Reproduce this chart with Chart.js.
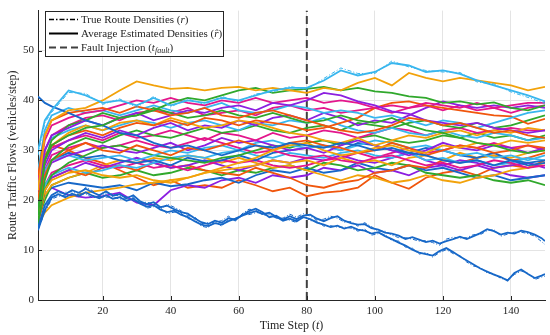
<!DOCTYPE html>
<html>
<head>
<meta charset="utf-8">
<script src="https://cdn.jsdelivr.net/npm/chart.js@4.4.1/dist/chart.umd.min.js"></script>
<style>
  html, body { margin: 0; padding: 0; background: #fff; }
</style>
</head>
<body>
<canvas id="chart" width="550" height="335"></canvas>
<script>
// time steps the values were read at
const steps = [1,3,5,10,15,20,25,30,35,40,45,50,55,60,65,70,75,80,85,90,95,100,105,110,115,120,125,130,135,140,145,150];
// finer steps for the two isolated low routes
const fineSteps = [1,3,5,7,9,11,13,15,17,19,21,23,25,27,29,31,33,35,37,39,41,43,45,47,49,51,53,55,57,59,
  61,63,65,67,69,71,73,75,77,79,81,83,85,87,89,91,93,95,97,99,101,103,105,107,109,111,113,115,117,119,
  121,123,125,127,129,131,133,135,137,139,141,143,145,147,149,150];
const xTicks = [20,40,60,80,100,120,140];
const yTicks = [0,10,20,30,40,50];
const faultStep = 80;
const yTop = 58;

// estimated route densities
const cyanTop    = [30,36,38,42,41,39.5,40,39,40.5,39,40,39.5,40.5,40,41,42,42.5,42.5,44,46,45,45.7,47.5,47,45.7,46,45.3,44,43,42,41,39.8];
const yellowTop  = [22,33,36,38,38.5,40,42,43.8,43,42.3,42.5,42,42.5,42.7,42,42.5,42,41.5,42.5,42,43.5,44.5,43,45.5,44.5,43.8,44.5,44,43.5,43,42,42.7];
const greenHigh  = [18,28,31,33,34.5,35,36.5,37,38,39.5,40.5,40,41,42,42.5,41.5,42,42.3,42.7,42,42.5,41.8,41.5,40.8,40.5,39.5,39.8,39.2,39.6,38.5,38,39];
const blueTop    = [40.8,39.5,38.8,37.5,36,35,33.5,33,31.5,30.5,31,30,29,30,31,30.5,31.5,31,30.5,31.5,31,30,30.5,29.5,29,28,27.5,28,27,28,27.5,28];
const blueMid1   = [16,21,22.5,23.5,23,22.5,23,22,23.5,22.8,23.2,24,24.5,23.5,25,26,25.5,26.5,25.5,26,27.5,26.5,26,27,26,26.5,25.5,24.5,25,24,24.5,25];
const blueMid2   = [20,26,28,29.5,28.5,29,28,27.5,28,27,28.5,27.8,28,29,28,29.5,30,30.5,31,30,31.5,31,30,29.5,30.5,30,29,28.5,29.5,28,27,27.5];
const orangeLow  = [22,29,31,30,28.5,27.5,26,24.5,23,24,22.5,23,22.5,24,23,21.8,22.5,20.8,21.5,21.8,22.5,25,23.5,22.3,24.5,25.5,26,25,26.5,27,26.5,28];
const orange2    = [20,28,31,33,34,33,34.5,35.5,35,36,35,36.5,36,35,36,35.5,35,34,34.5,35.5,36.5,38.5,39.5,39.8,39,38.5,38,37.5,37,36.8,35.3,36.3];
const orange3    = [25,33,36,37.5,38,38.5,37.5,38.8,38,37,37.5,38.5,37,36.5,37.5,38,37,36,35,34,33.5,34,35,36.5,36,35,35.5,34.5,33.5,34,33,32.5];
const orange4    = [18,25,28,30,31.5,30,29.5,31,30,29,30.5,30,31,32,31,30,31.5,32,31,30.5,29.5,30,31.5,30.5,29,30,31,30.5,29.5,30,31,30.5];
const orange5    = [15,22,24.5,26,25,26.5,27,26,27.5,26.5,27,26,25.5,25,26.5,25.5,24.5,23,22.5,23.5,24,25.5,26,27,26.5,28,27.5,28.5,29,28,28.5,29.5];
const yellowRise = [15,17.5,19,20.5,21.5,22,22.5,23.2,23.5,24,24.5,25.5,26,26.5,27,28,27.5,28,27,28.5,27.5,28,27,28.5,29,28,29.5,28.5,29,28.5,29.5,30];
const yellow3    = [17,22,24,25.5,26,25,24.5,25,24,23.5,24.5,25.5,26.5,27.5,28.5,30,31,31.5,30,29,29.5,30.5,31,30,29.5,31,30.5,31.5,31,32,31.5,32];
const yellow4    = [20,28,31,33.5,35,34,35.5,36,35,36.5,35.5,34.5,35,36,35.5,34.5,33.5,33,32,31.5,32.5,31,32,33,32.5,33.5,34,33,34,33.5,34.5,34];
const yellow5    = [16,21,23,24.5,25.5,27,28,27.5,28.5,28,29,28.5,27.5,28.5,27.5,26.5,27,26,25,24,25,24.5,23.5,24,25,24,23.5,24.5,25,26,26.5,27.5];
const purpleLow  = [17,21,22.5,21,20.5,20.8,21.5,19.5,19,22,23,22.5,24,24.5,23.5,25,24.5,25,26.5,26,27,25.5,26,25,26.5,27,26,27,26,25,24.5,25];
const purpleHigh = [22,30,33,34.5,36,35,36.5,37.5,36,37,38,37.5,38.5,39,38,39.5,39,40,41.5,41,39.8,39,37.8,37.3,36,35.5,35,35.5,34.5,34,33.5,34];
const purple3    = [19,27,30,32,33.5,32.5,34,33,34.5,35.5,34,35,34.5,36,35,36.5,37,36,37.5,36.5,35,36,35.5,37,38.5,39.8,39,38.5,39,38.5,39,38.5];
const purple4    = [18,25,27.5,29,30,31,30,29.5,30.5,31.5,30,31,32.5,31.5,32,31,30,30.5,29.5,31,32,31,30,29,30,31.5,30.5,30,31,30.5,29.5,30.5];
const purple5    = [16,22,24.5,26,27.5,26.5,27.5,28.5,27.5,26.5,27,28,27,26,27,28,27.5,28.5,28,29,28,27.5,28.5,29.5,28,27,28,27.5,26.5,27,27.5,26.5];
const green2     = [15,24,28,31,32.5,31.5,33,34,33,32.5,33.5,34.5,33.5,34,35,34,33.5,34.5,35,34,35.5,35,34.5,35.5,36,35,34.5,35.5,34.5,35,36,37];
const green3     = [16,22,25,27.5,29,30.5,31,30,29,28.5,28,27.5,28.5,29,30,31,30.5,31.5,32,31,32.5,33,32,31.5,32,33,32.5,33.5,32.5,33,32,33];
const green4     = [17,28,32,35,36,37.5,36.5,37,38.5,37.5,36.5,37,38,37,36.5,37.5,36.5,35.5,36,37,36,35.5,36.5,35,34,33.5,32.5,31.5,31,30,29.5,30];
const green5     = [16,20,23,24.5,25.5,24.5,25,26,25,25.5,26.5,26,25,26,25.5,26.5,27,26,27.5,27,26,26.5,27.5,27,25.5,25,24.5,25,24,23.5,24,23];
const cyan2      = [26,34,37,38.5,37.5,38,37,38,39,38,37.5,38.5,39.5,38,37.5,38,39,38.5,37.5,38,37.5,36.5,37,36,35,36,35.5,34.5,35.5,36.5,37.5,38];
const cyan3      = [20,26,28,29,28,28.5,29,28,29,30,29.5,30.5,31,30,31.5,32,31,30.5,31,30,31,32,31.5,30.5,31,30,29,29.5,28.5,29,28,29];
const cyan4      = [23,30,32.5,34,35,34,35,36,35.5,34.5,35.5,36,35,34,35.5,35,36,35.5,36.5,35,34,33.5,34.5,33.5,33,34,33,32.5,33.5,33,32,32.5];
const cyan5      = [18,23,25,26.5,25.5,26,27,26.5,27.5,28.5,29,28.5,29.5,30,29,28.5,29.5,29,28.5,29.5,30,29,28.5,29.5,28,28.5,27.5,28,27,27.5,28.5,28];
const mag1       = [24,32,35,36.5,37.5,38,39,40,39.5,40.5,39.5,39,40,39.5,40.5,39.5,40,40.5,39.5,40,39.5,38.5,39,38.5,39.5,39,38.5,39.5,38.5,39,39.5,39.5];
const mag2       = [22,30,33,35,36.5,37,36,37.5,38,37.5,38.5,37,37.5,38,37,38.5,39,38,38.5,37.5,38,38.5,37.5,38.5,39,38,39,38,38.5,37.5,38.5,39];
const mag3       = [20,28,30.5,32,33,32,33.5,32.5,33,34,33,32,33.5,33,32,33.5,32.5,33,34,33.5,32.5,33.5,34.5,34,33,34,34.5,33.5,34,34.5,34,34];
const mag4       = [19,26,29,30.5,31.5,30.5,31,32,31,30.5,31.5,32.5,31.5,30.5,29.5,30,29,28.5,29,28,27.5,28.5,29,28,27,27.5,26.5,27,28,27.5,26.5,27];
const mag5       = [17,23,25.5,27,28,27,26.5,27.5,26.5,27,26,27,28,27.5,28,27,26.5,27,28,28.5,29.5,28.5,29.5,30.5,29.5,30,31,30.5,31.5,30.5,31,30];

// the two low blue routes, on fineSteps
const blueA = [14.5,19,21,21.8,21.2,22,21.5,22.3,21.6,21,
  21.8,20.9,21.2,20.4,21,19.8,19.2,19.6,18.6,18.9,
  18.2,17.6,17.3,16.4,15.6,15.2,15.9,15.5,16.4,16.1,
  17,17.8,18.3,17.6,16.6,16.9,16.1,16.8,16.2,16.9,
  17.1,16.3,15.8,16.4,16.8,15.9,15.4,15.1,15.2,14.4,
  14.1,13.5,13.3,12.9,12.2,12.6,12.1,11.6,11.9,11.3,
  11.8,12.2,12.7,12.2,12.8,13.4,14.2,13.8,13.1,13.5,
  13.3,13.9,13.6,13.1,12.4,11.8];
const blueB = [14,18,20.5,21.2,20.6,21.3,20.8,21.6,20.9,20.4,
  21,20.3,20.6,19.9,20.3,19.3,18.7,19,18.1,17.6,
  17.9,17.1,16.6,15.8,15.1,14.8,15.4,15.1,15.8,16.3,
  16.9,17.4,17.8,17.2,17.5,16.7,15.9,16.3,15.8,16.6,
  16.2,15.5,15.1,14.6,14.9,14.3,14.7,14.1,13.9,13.3,
  13.6,12.8,12.2,11.5,10.9,10.1,9.5,9.2,8.9,9.8,
  10.4,9.6,8.7,7.9,7.1,6.3,5.7,5.1,4.6,3.9,
  5.4,6.1,5.2,4.4,4.9,5.2];

// true route densities where they visibly part from the estimate
const blueATrue = [14,18.6,20.6,21.4,21.6,21.7,21.1,22.6,21.9,20.7,
  21.5,21.2,20.8,20.7,20.6,19.5,19.6,19.2,18.2,19.2,
  18.6,17.9,16.9,16.7,15.3,15.5,15.6,15.9,16.8,15.8,
  17.3,18.2,18,17.1,16.9,16.5,16.4,17.2,16.6,17.3,
  16.8,16,16.2,16.8,16.4,15.6,15.7,14.8,15.5,14.7,
  13.8,13.8,13,12.5,12.5,12.2,11.8,11.9,11.5,11,
  12.2,12.6,12.4,12.5,13.1,13.1,13.9,14.1,12.8,13.2,
  13.6,13.6,13.3,12.8,11.7,11.1];
const blueBTrue = [14,17.6,20.2,20.8,21,21,21.2,21.3,20.5,20.7,
  20.6,20.7,20.2,20.3,19.9,19.7,18.4,18.7,18.5,17.3,
  17.6,17.4,16.3,16.1,14.8,14.5,15.7,14.8,16.1,16,
  17.2,17.1,17.5,17.5,17.2,16.4,16.2,16,15.5,16.9,
  15.9,15.8,14.8,14.9,14.6,14.6,14.4,13.8,14.2,13,
  13.3,13.1,11.9,11.8,10.6,10.4,9.2,9.5,8.6,9.5,
  10.1,9.3,8.9,7.6,6.8,6.5,5.4,5.3,4.3,4.1,
  5.1,5.8,5.4,4.1,4.6,4.8];
const cyanTopTrue = [29,35.5,37.6,41.6,41.4,39.2,40.3,38.6,40.8,38.7,40.3,39.2,40.8,39.7,41.3,41.7,42.8,42.2,44.4,46.5,45.4,45.4,47.9,46.7,46,45.7,45.6,43.7,43.3,41.7,40.6,39.4];

const BLUE = '#1768c8', ORANGE = '#f0560c', YELLOW = '#f2a20a', PURPLE = '#8c1fe0',
      GREEN = '#30a82c', CYAN = '#38b6ee', MAGENTA = '#e3168c';

const routes = [
  [blueA, BLUE, fineSteps], [blueB, BLUE, fineSteps], [cyanTop, CYAN], [yellowTop, YELLOW], [greenHigh, GREEN],
  [blueTop, BLUE], [orange3, ORANGE], [purpleHigh, PURPLE], [mag1, MAGENTA], [cyan2, CYAN],
  [green4, GREEN], [orange2, ORANGE], [yellow4, YELLOW], [purple3, PURPLE], [mag2, MAGENTA],
  [cyan4, CYAN], [green2, GREEN], [mag3, MAGENTA], [yellow3, YELLOW], [orange4, ORANGE],
  [purple4, PURPLE], [cyan3, CYAN], [green3, GREEN], [mag4, MAGENTA], [blueMid2, BLUE],
  [cyan5, CYAN], [yellowRise, YELLOW], [mag5, MAGENTA], [purple5, PURPLE], [orange5, ORANGE],
  [yellow5, YELLOW], [green5, GREEN], [blueMid1, BLUE], [purpleLow, PURPLE], [orangeLow, ORANGE]
];
const trueRoutes = [[blueATrue, BLUE, fineSteps], [blueBTrue, BLUE, fineSteps], [cyanTopTrue, CYAN]];

const toPoints = (vals, xs) => vals.map((v, i) => ({ x: (xs || steps)[i], y: v }));

const datasets = [];
trueRoutes.forEach(([vals, col, xs]) => datasets.push({
  data: toPoints(vals, xs), borderColor: col, borderWidth: 1, borderDash: [4, 2, 1, 2],
  pointRadius: 0, tension: 0
}));
routes.forEach(([vals, col, xs]) => datasets.push({
  data: toPoints(vals, xs), borderColor: col, borderWidth: 1.8,
  pointRadius: 0, tension: 0
}));
datasets.push({
  data: [{ x: faultStep, y: 0 }, { x: faultStep, y: yTop }],
  borderColor: '#404040', borderWidth: 2, borderDash: [8, 4], pointRadius: 0
});

const SERIF = '"Liberation Serif", "DejaVu Serif", serif';
const INK = '#262626';

function drawRich(ctx, parts, x, y) {
  parts.forEach(p => {
    ctx.font = p.f;
    ctx.fillText(p.t, x, y + (p.dy || 0));
    x += ctx.measureText(p.t).width;
  });
}
function richWidth(ctx, parts) {
  let w = 0;
  parts.forEach(p => { ctx.font = p.f; w += ctx.measureText(p.t).width; });
  return w;
}

const overlay = {
  id: 'overlay',
  afterDraw(chart) {
    const ctx = chart.ctx, a = chart.chartArea;
    const xs = chart.scales.x, ys = chart.scales.y;
    ctx.save();
    // inward tick marks
    ctx.strokeStyle = INK; ctx.lineWidth = 1; ctx.setLineDash([]);
    ctx.beginPath();
    xTicks.forEach(v => { const px = Math.round(xs.getPixelForValue(v)) + 0.5; ctx.moveTo(px, a.bottom); ctx.lineTo(px, a.bottom - 4); });
    yTicks.forEach(v => { const py = Math.round(ys.getPixelForValue(v)) + 0.5; ctx.moveTo(a.left, py); ctx.lineTo(a.left + 4, py); });
    ctx.stroke();

    // axis titles
    const n12 = '12px ' + SERIF, i12 = 'italic 12px ' + SERIF;
    ctx.fillStyle = INK; ctx.textBaseline = 'alphabetic';
    const xt = [{ t: 'Time Step (', f: n12 }, { t: 't', f: i12 }, { t: ')', f: n12 }];
    drawRich(ctx, xt, (a.left + a.right) / 2 - richWidth(ctx, xt) / 2, 329);
    ctx.save();
    ctx.translate(16, (a.top + a.bottom) / 2);
    ctx.rotate(-Math.PI / 2);
    const yt = [{ t: 'Route Traffic Flows (vehicles/step)', f: n12 }];
    drawRich(ctx, yt, -richWidth(ctx, yt) / 2, 0);
    ctx.restore();

    // legend
    const bx = 45.5, by = 11.5, bw = 178, bh = 45;
    ctx.fillStyle = '#fff'; ctx.fillRect(bx, by, bw, bh);
    ctx.strokeStyle = INK; ctx.lineWidth = 1; ctx.strokeRect(bx, by, bw, bh);
    const n11 = '11px ' + SERIF, i11 = 'italic 11px ' + SERIF, s8 = 'italic 8px ' + SERIF;
    const rows = [
      { y: 19, dash: [5, 2, 1.5, 2], w: 1.3, c: '#000',
        parts: [{ t: 'True Route Densities (', f: n11 }, { t: 'r', f: i11 }, { t: ')', f: n11 }] },
      { y: 33, dash: [], w: 2, c: '#000',
        parts: [{ t: 'Average Estimated Densities (', f: n11 }, { t: 'r\u0302', f: i11 }, { t: ')', f: n11 }] },
      { y: 47, dash: [7, 4], w: 2, c: '#404040',
        parts: [{ t: 'Fault Injection (', f: n11 }, { t: 't', f: i11 }, { t: 'fault', f: s8, dy: 2.5 }, { t: ')', f: n11 }] }
    ];
    rows.forEach(r => {
      ctx.strokeStyle = r.c; ctx.lineWidth = r.w; ctx.setLineDash(r.dash);
      ctx.beginPath(); ctx.moveTo(49, r.y + 0.5); ctx.lineTo(78, r.y + 0.5); ctx.stroke();
      ctx.setLineDash([]);
      ctx.fillStyle = INK; ctx.textBaseline = 'middle';
      drawRich(ctx, r.parts, 81, r.y + 1);
    });
    ctx.restore();
  }
};

new Chart(document.getElementById('chart'), {
  type: 'line',
  data: { datasets },
  options: {
    responsive: false,
    animation: false,
    devicePixelRatio: 1,
    layout: { padding: { top: 4, right: 5, left: 0, bottom: 0 } },
    plugins: { legend: { display: false }, tooltip: { enabled: false } },
    scales: {
      x: {
        type: 'linear', min: 1, max: 150,
        afterBuildTicks: s => { s.ticks = xTicks.map(v => ({ value: v })); },
        afterFit: s => { s.height = 35; },
        grid: { color: '#e4e4e4', drawTicks: false },
        border: { color: INK, width: 1 },
        ticks: { color: INK, font: { family: SERIF, size: 11 }, padding: 5, maxRotation: 0 }
      },
      y: {
        min: 0, max: yTop,
        afterBuildTicks: s => { s.ticks = yTicks.map(v => ({ value: v })); },
        afterFit: s => { s.width = 38; },
        grid: { color: '#e4e4e4', drawTicks: false },
        border: { color: INK, width: 1 },
        ticks: { color: INK, font: { family: SERIF, size: 11 }, padding: 4 }
      }
    }
  },
  plugins: [overlay]
});
</script>
</body>
</html>
